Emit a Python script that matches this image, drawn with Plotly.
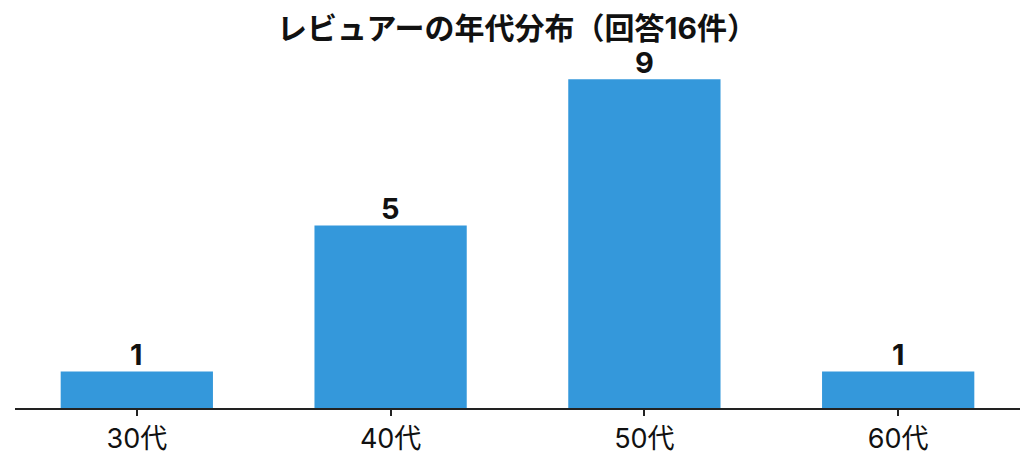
import plotly.graph_objects as go

categories = ["30代", "40代", "50代", "60代"]
counts = [1, 5, 9, 1]
title_text = "レビュアーの年代分布（回答16件）"

BAR_COLOR = "#3498db"
FONT = "Inter, Noto Sans CJK JP"

# page body has an 8px margin, so the margins below compensate for it
fig = go.Figure(
    go.Bar(
        x=categories,
        y=counts,
        width=0.6,
        marker=dict(color=BAR_COLOR, line=dict(width=0)),
        hoverinfo="x+y",
    )
)

# value labels just above each bar
for cat, val in zip(categories, counts):
    fig.add_annotation(
        x=cat,
        y=val,
        text=str(val),
        showarrow=False,
        yanchor="bottom",
        yshift=-3,
        font=dict(family=FONT, size=29, color="#111111", weight="bold"),
    )

fig.update_layout(
    width=1035,
    height=465,
    margin=dict(l=7, r=23, t=22, b=65),
    paper_bgcolor="white",
    plot_bgcolor="white",
    showlegend=False,
    font=dict(family=FONT, color="#111111"),
    title=dict(
        text=title_text,
        x=(517 - 8) / 1035,
        xanchor="center",
        y=1 - 20 / 465,
        yref="container",
        yanchor="middle",
        font=dict(family=FONT, size=30, color="#111111", weight="bold"),
    ),
    xaxis=dict(
        range=[-0.48, 3.48],
        showline=True,
        linecolor="#222222",
        linewidth=2,
        ticks="outside",
        ticklen=6,
        tickwidth=2,
        tickcolor="#222222",
        tickfont=dict(family=FONT, size=27, color="#111111"),
        showgrid=False,
        zeroline=False,
    ),
    yaxis=dict(
        range=[0, 10.35],
        visible=False,
        showgrid=False,
        zeroline=False,
    ),
)

fig.write_html("out.html")
